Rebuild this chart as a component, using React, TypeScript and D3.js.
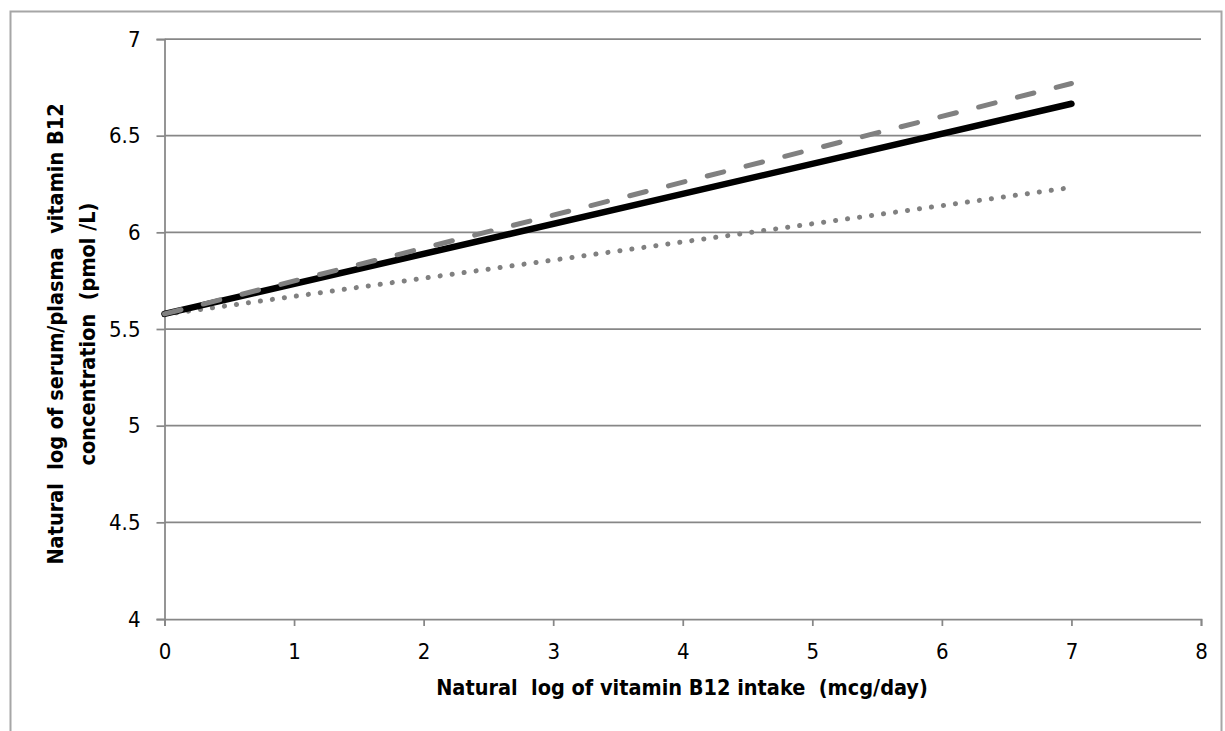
import React, { useEffect, useRef } from 'react';
import * as d3 from 'd3';

const xTicks = [0, 1, 2, 3, 4, 5, 6, 7, 8];
const yTicks = [4, 4.5, 5, 5.5, 6, 6.5, 7];
const intake = [0, 7];
const solidSeries = [5.578, 6.665];
const dashedSeries = [5.578, 6.77];
const dottedSeries = [5.575, 6.232];

const xTitle = 'Natural  log of vitamin B12 intake  (mcg/day)';
const yTitle1 = 'Natural  log of serum/plasma  vitamin B12';
const yTitle2 = 'concentration  (pmol /L)';

const FONT = "'DejaVu Sans Condensed', 'Liberation Sans', sans-serif";

function App() {
  const svgRef = useRef<SVGSVGElement>(null);

  useEffect(() => {
    const svg = d3.select(svgRef.current);
    svg.selectAll('*').remove();

    const left = 164.5, right = 1201, top = 39, bottom = 619;
    const x = d3.scaleLinear().domain([0, 8]).range([left, right]);
    const y = d3.scaleLinear().domain([4, 7]).range([bottom, top]);

    // outer frame
    svg.append('rect')
      .attr('x', 10.5).attr('y', 11.5)
      .attr('width', 1211).attr('height', 800)
      .attr('fill', 'none').attr('stroke', '#a6a6a6').attr('stroke-width', 2);

    // gridlines
    svg.append('g').selectAll('line')
      .data(yTicks.filter(d => d > 4))
      .enter().append('line')
      .attr('x1', left).attr('x2', right)
      .attr('y1', d => y(d)).attr('y2', d => y(d))
      .attr('stroke', '#878787').attr('stroke-width', 1.75);

    // y axis
    const yAxis = d3.axisLeft(y).tickValues(yTicks).tickSize(8).tickPadding(16)
      .tickFormat(d => String(d));
    const gy = svg.append('g').attr('transform', `translate(${left},0)`).call(yAxis);
    gy.select('.domain').attr('stroke', '#878787').attr('stroke-width', 1.75);
    gy.selectAll('.tick line').attr('stroke', '#878787').attr('stroke-width', 1.75);
    gy.selectAll('.tick text')
      .attr('font-family', FONT).attr('font-size', 22).attr('fill', '#000');

    // x axis
    const xAxis = d3.axisBottom(x).tickValues(xTicks).tickSize(7).tickPadding(17)
      .tickFormat(d => String(d));
    const gx = svg.append('g').attr('transform', `translate(0,${bottom})`).call(xAxis);
    gx.select('.domain').attr('stroke', '#878787').attr('stroke-width', 1.75);
    gx.selectAll('.tick line').attr('stroke', '#878787').attr('stroke-width', 1.75);
    gx.selectAll('.tick text')
      .attr('font-family', FONT).attr('font-size', 22).attr('fill', '#000');

    const line = d3.line<number>()
      .x((_, i) => x(intake[i]))
      .y(d => y(d));

    svg.append('path').datum(dottedSeries)
      .attr('d', line).attr('fill', 'none')
      .attr('stroke', '#808080').attr('stroke-width', 5)
      .attr('stroke-linecap', 'round').attr('stroke-dasharray', '0.1,12');

    svg.append('path').datum(solidSeries)
      .attr('d', line).attr('fill', 'none')
      .attr('stroke', '#000').attr('stroke-width', 6.5)
      .attr('stroke-linecap', 'round');

    svg.append('path').datum(dashedSeries)
      .attr('d', line).attr('fill', 'none')
      .attr('stroke', '#808080').attr('stroke-width', 5)
      .attr('stroke-linecap', 'round').attr('stroke-dasharray', '17,23');

    // axis titles
    svg.append('text')
      .attr('x', 682).attr('y', 695)
      .attr('text-anchor', 'middle')
      .attr('font-family', FONT).attr('font-weight', 'bold').attr('font-size', 21.5)
      .style('white-space', 'pre')
      .text(xTitle);

    const yt = svg.append('text')
      .attr('transform', 'translate(0,334) rotate(-90)')
      .attr('text-anchor', 'middle')
      .attr('font-family', FONT).attr('font-weight', 'bold').attr('font-size', 21.5)
      .style('white-space', 'pre');
    yt.append('tspan').attr('x', 0).attr('y', 63).text(yTitle1);
    yt.append('tspan').attr('x', 0).attr('y', 95).text(yTitle2);
  }, []);

  return (
    <svg ref={svgRef} width={1225} height={731}
      style={{ position: 'absolute', left: 0, top: 0, background: '#fff' }} />
  );
}

export default App;
